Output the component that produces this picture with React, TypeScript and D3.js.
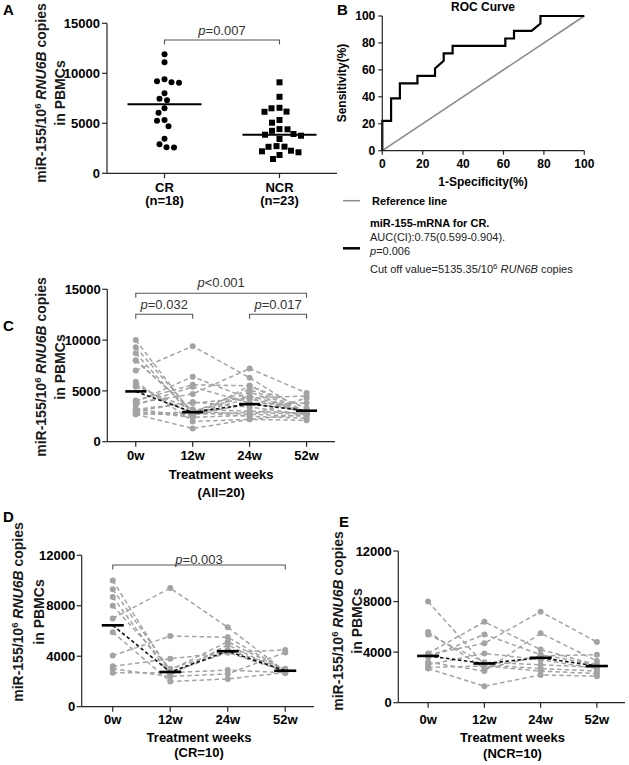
import React from "react";
import * as d3 from "d3";

const FONT = "'Liberation Sans', Arial, Helvetica, sans-serif";

// ---------- Panel A ----------
const groupsA = ["CR", "NCR"];
const groupNA = ["(n=18)", "(n=23)"];
const crValues = [11900, 11100, 9400, 9100, 9050, 9200, 8000, 7300, 7450, 6500, 6050, 5330, 5260, 4700, 3450, 2900, 2600, 2580];
const ncrValues = [9100, 7650, 6550, 6150, 6170, 6500, 5330, 5060, 4400, 4250, 4420, 3930, 3760, 3860, 3430, 2660, 2720, 2650, 2260, 2100, 1830, 2200, 1430];
const medianA = [6900, 3850];
const yTicksA = [0, 5000, 10000, 15000];

// ---------- Panel B (ROC) ----------
const rocFpr = [0, 0, 4.35, 4.35, 8.7, 8.7, 17.4, 17.4, 26.1, 26.1, 30.4, 30.4, 34.8, 34.8, 60.9, 60.9, 65.2, 65.2, 73.9, 78.3, 78.3, 100];
const rocTpr = [0, 22.2, 22.2, 38.9, 38.9, 50, 50, 55.6, 55.6, 61.1, 66.7, 72.2, 72.2, 77.8, 77.8, 83.3, 83.3, 88.9, 88.9, 94.4, 100, 100];
const rocTicks = [0, 20, 40, 60, 80, 100];

// ---------- Panels C/D/E ----------
const weeks = ["0w", "12w", "24w", "52w"];
const crPatients = [
  [10000, 2700, 4300, 2800],
  [9300, 2900, 5150, 2900],
  [8700, 2500, 4900, 2700],
  [8000, 3000, 4500, 3000],
  [7000, 9400, 6300, 2800],
  [5900, 2000, 2200, 2700],
  [4050, 5600, 5500, 2900],
  [3200, 3800, 4300, 4500],
  [3000, 2400, 2600, 4300],
  [2700, 2700, 2900, 2700],
];
const ncrPatients = [
  [8000, 3000, 2700, 2500],
  [5600, 2700, 3700, 3800],
  [5400, 3200, 3000, 2800],
  [3900, 6400, 4200, 3000],
  [3800, 4700, 7200, 4800],
  [3600, 5400, 3800, 3000],
  [3200, 2500, 5500, 3300],
  [3000, 3900, 3400, 2700],
  [2800, 2900, 2500, 2300],
  [2700, 1300, 2200, 2100],
];
const allPatients = [...crPatients, ...ncrPatients];
const medianC = [4950, 2900, 3700, 3050];
const medianD = [6450, 2750, 4400, 2850];
const medianE = [3700, 3100, 3550, 2900];
const yTicksC = [0, 5000, 10000, 15000];
const yTicksDE = [0, 4000, 8000, 12000];

const AXIS = "#262626";
const GRAY = "#a3a3a3";

function swarm(values: number[], y: (v: number) => number, cx: number, minDist: number) {
  const placed: { x: number; y: number }[] = [];
  const order = values.map((v, i) => ({ v, i })).sort((a, b) => b.v - a.v);
  const out: { x: number; y: number }[] = new Array(values.length);
  for (const { v, i } of order) {
    const yy = y(v);
    let bx = cx;
    for (let k = 0; k < 400; k++) {
      const off = k === 0 ? 0 : (k % 2 === 1 ? -1 : 1) * Math.ceil(k / 2) * 0.5;
      const x = cx + off;
      if (placed.every((p) => Math.hypot(p.x - x, p.y - yy) >= minDist)) {
        bx = x;
        break;
      }
    }
    placed.push({ x: bx, y: yy });
    out[i] = { x: bx, y: yy };
  }
  return out;
}

function YTitle({ x1, x2, cy, size = 14 }: { x1: number; x2: number; cy: number; size?: number }) {
  return (
    <g fontWeight="bold" fontSize={size} fill="#1a1a1a">
      <g transform={`translate(${x1},${cy}) rotate(-90)`}>
        <text x={0} y={0} textAnchor="middle">
          miR-155/10
          <tspan dy={-5} fontSize={size * 0.68}>6</tspan>
          <tspan dy={5} fontStyle="italic">{" RNU6B"}</tspan>
          <tspan>{" copies"}</tspan>
        </text>
      </g>
      <g transform={`translate(${x2},${cy}) rotate(-90)`}>
        <text x={0} y={0} textAnchor="middle">{"in PBMCs"}</text>
      </g>
    </g>
  );
}

function Bracket({ x1, x2, y, label, textY, op = "=" }: { x1: number; x2: number; y: number; label: string; textY: number; op?: string }) {
  return (
    <g>
      <path d={`M${x1},${y + 4.5}V${y}H${x2}V${y + 4.5}`} fill="none" stroke="#555" strokeWidth={1.1} />
      <text x={(x1 + x2) / 2} y={textY} textAnchor="middle" fontSize={13} fill="#333">
        <tspan fontStyle="italic">p</tspan>
        {op + label}
      </text>
    </g>
  );
}

function PanelA() {
  const y = d3.scaleLinear().domain([0, 15000]).range([173.3, 23.3]);
  const x = d3.scaleBand<string>().domain(groupsA).range([107, 337]);
  const cx = (g: string) => (x(g) as number) + x.bandwidth() / 2;
  const crPts = swarm(crValues, y, cx("CR"), 7.4);
  const ncrPts = swarm(ncrValues, y, cx("NCR"), 7.6);
  return (
    <g>
      <text x={3} y={15} fontSize={15} fontWeight="bold">A</text>
      <YTitle x1={46} x2={65} cy={93} />
      <line x1={107} x2={107} y1={y(0)} y2={y(15000)} stroke={AXIS} strokeWidth={1.2} />
      <line x1={107} x2={337} y1={y(0)} y2={y(0)} stroke={AXIS} strokeWidth={1.2} />
      {yTicksA.map((t) => (
        <g key={t}>
          <line x1={102} x2={107} y1={y(t)} y2={y(t)} stroke={AXIS} strokeWidth={1.2} />
          <text x={100} y={y(t)} dy="0.36em" textAnchor="end" fontSize={13} fontWeight="bold">{t}</text>
        </g>
      ))}
      {groupsA.map((g, i) => (
        <g key={g}>
          <line x1={cx(g)} x2={cx(g)} y1={y(0)} y2={y(0) + 5} stroke={AXIS} strokeWidth={1.2} />
          <text x={cx(g)} y={191.5} textAnchor="middle" fontSize={13} fontWeight="bold">{g}</text>
          <text x={cx(g)} y={205} textAnchor="middle" fontSize={13} fontWeight="bold">{groupNA[i]}</text>
        </g>
      ))}
      {crPts.map((p, i) => (
        <circle key={i} cx={p.x} cy={p.y} r={3} fill="#000" />
      ))}
      {ncrPts.map((p, i) => (
        <rect key={i} x={p.x - 3} y={p.y - 3} width={6} height={6} fill="#000" />
      ))}
      {groupsA.map((g, i) => (
        <line key={g} x1={cx(g) - 37} x2={cx(g) + 37} y1={y(medianA[i])} y2={y(medianA[i])} stroke="#000" strokeWidth={2} />
      ))}
      <Bracket x1={cx("CR")} x2={cx("NCR")} y={40} textY={35} label="0.007" />
    </g>
  );
}

function PanelB() {
  const x = d3.scaleLinear().domain([0, 100]).range([382.3, 584.3]);
  const y = d3.scaleLinear().domain([0, 100]).range([150.7, 16]);
  const line = d3
    .line<number>()
    .x((_, i) => x(rocFpr[i]))
    .y((_, i) => y(rocTpr[i]));
  return (
    <g>
      <text x={337} y={15} fontSize={15} fontWeight="bold">B</text>
      <text x={483} y={11} textAnchor="middle" fontSize={12} fontWeight="bold">ROC Curve</text>
      <line x1={x(0)} x2={x(100)} y1={y(0)} y2={y(100)} stroke="#8c8c8c" strokeWidth={1.6} />
      <path d={line(rocFpr) || ""} fill="none" stroke="#000" strokeWidth={2.2} strokeLinejoin="miter" />
      <line x1={x(0)} x2={x(0)} y1={y(0)} y2={y(100)} stroke={AXIS} strokeWidth={1.2} />
      <line x1={x(0)} x2={x(100)} y1={y(0)} y2={y(0)} stroke={AXIS} strokeWidth={1.2} />
      {rocTicks.map((t) => (
        <g key={t}>
          <line x1={x(0) - 4} x2={x(0)} y1={y(t)} y2={y(t)} stroke={AXIS} strokeWidth={1.2} />
          <text x={x(0) - 7} y={y(t)} dy="0.36em" textAnchor="end" fontSize={12} fontWeight="bold">{t}</text>
          <line x1={x(t)} x2={x(t)} y1={y(0)} y2={y(0) + 4} stroke={AXIS} strokeWidth={1.2} />
          <text x={x(t)} y={168} textAnchor="middle" fontSize={12} fontWeight="bold">{t}</text>
        </g>
      ))}
      <text x={483} y={186} textAnchor="middle" fontSize={12} fontWeight="bold">1-Specificity(%)</text>
      <g transform="translate(346,83) rotate(-90)">
        <text x={0} y={0} textAnchor="middle" fontSize={12} fontWeight="bold">Sensitivity(%)</text>
      </g>
      {/* legend */}
      <line x1={343} x2={360} y1={200.7} y2={200.7} stroke="#8c8c8c" strokeWidth={1.5} />
      <text x={372} y={205} fontSize={11} fontWeight="bold">Reference line</text>
      <line x1={343} x2={360} y1={248.3} y2={248.3} stroke="#000" strokeWidth={2.5} />
      <text x={370} y={226.5} fontSize={11} fontWeight="bold">miR-155-mRNA for CR.</text>
      <text x={370} y={240.5} fontSize={11} fill="#222">AUC(CI):0.75(0.599-0.904).</text>
      <text x={370} y={255} fontSize={11} fill="#222">
        <tspan fontStyle="italic">p</tspan>=0.006
      </text>
      <text x={370} y={273} fontSize={11} fill="#222">
        Cut off value=5135.35/10
        <tspan dy={-4.5} fontSize={8}>6</tspan>
        <tspan dy={4.5} fontStyle="italic">{" RUN6B"}</tspan>
        <tspan>{" copies"}</tspan>
      </text>
    </g>
  );
}

type TimeProps = {
  letter: string;
  letterX: number;
  letterY: number;
  patients: number[][];
  medians: number[];
  domainMax: number;
  ticks: number[];
  yRange: [number, number];
  axisX: number;
  bandRange: [number, number];
  tickLabelY: number;
  titleY: number;
  subY: number;
  sub: string;
  yt: [number, number, number];
  medW: number;
  children?: React.ReactNode;
};

function TimePanel(p: TimeProps) {
  const y = d3.scaleLinear().domain([0, p.domainMax]).range(p.yRange);
  const x = d3.scaleBand<string>().domain(weeks).range(p.bandRange);
  const cx = (w: string) => (x(w) as number) + x.bandwidth() / 2;
  const line = d3
    .line<number>()
    .x((_, i) => cx(weeks[i]))
    .y((v) => y(v));
  const mid = (p.bandRange[0] + p.bandRange[1]) / 2;
  return (
    <g>
      <text x={p.letterX} y={p.letterY} fontSize={15} fontWeight="bold">{p.letter}</text>
      <YTitle x1={p.yt[0]} x2={p.yt[1]} cy={p.yt[2]} />
      {p.patients.map((s, i) => (
        <path key={i} d={line(s) || ""} fill="none" stroke={GRAY} strokeWidth={1.5} strokeDasharray="4.5 3" />
      ))}
      {p.patients.map((s, i) =>
        s.map((v, j) => <circle key={i + "-" + j} cx={cx(weeks[j])} cy={y(v)} r={3} fill={GRAY} />)
      )}
      <path d={line(p.medians) || ""} fill="none" stroke="#111" strokeWidth={1.6} strokeDasharray="3.5 2.5" />
      {p.medians.map((m, j) => (
        <line key={j} x1={cx(weeks[j]) - p.medW / 2} x2={cx(weeks[j]) + p.medW / 2} y1={y(m)} y2={y(m)} stroke="#000" strokeWidth={2.6} />
      ))}
      <line x1={p.axisX} x2={p.axisX} y1={y(0)} y2={y(p.domainMax)} stroke={AXIS} strokeWidth={1.2} />
      <line x1={p.axisX} x2={p.bandRange[1]} y1={y(0)} y2={y(0)} stroke={AXIS} strokeWidth={1.2} />
      {p.ticks.map((t) => (
        <g key={t}>
          <line x1={p.axisX - 5} x2={p.axisX} y1={y(t)} y2={y(t)} stroke={AXIS} strokeWidth={1.2} />
          <text x={p.axisX - 6.5} y={y(t)} dy="0.36em" textAnchor="end" fontSize={13} fontWeight="bold">{t}</text>
        </g>
      ))}
      {weeks.map((w) => (
        <g key={w}>
          <line x1={cx(w)} x2={cx(w)} y1={y(0)} y2={y(0) + 5} stroke={AXIS} strokeWidth={1.2} />
          <text x={cx(w)} y={p.tickLabelY} textAnchor="middle" fontSize={13} fontWeight="bold">{w}</text>
        </g>
      ))}
      <text x={mid} y={p.titleY} textAnchor="middle" fontSize={13} fontWeight="bold">Treatment weeks</text>
      <text x={mid} y={p.subY} textAnchor="middle" fontSize={13} fontWeight="bold">{p.sub}</text>
      {p.children}
    </g>
  );
}

export default function App() {
  const xC = d3.scaleBand<string>().domain(weeks).range([107.3, 335]);
  const cC = (w: string) => (xC(w) as number) + xC.bandwidth() / 2;
  const xD = d3.scaleBand<string>().domain(weeks).range([84, 314]);
  const cD = (w: string) => (xD(w) as number) + xD.bandwidth() / 2;
  return (
    <div style={{ position: "absolute", left: 0, top: 0 }}>
      <svg width={629} height={765} style={{ display: "block" }} fontFamily={FONT}>
        <rect width={629} height={765} fill="#fff" />
        <PanelA />
        <PanelB />
        <TimePanel
          letter="C" letterX={3} letterY={331}
          patients={allPatients} medians={medianC}
          domainMax={15000} ticks={yTicksC} yRange={[441.7, 289.3]}
          axisX={107.3} bandRange={[107.3, 335]}
          tickLabelY={460} titleY={479} subY={497} sub="(All=20)"
          yt={[46, 65, 367]} medW={21}
        >
          <Bracket x1={cC("0w")} x2={cC("52w")} y={293.3} textY={287} label="0.001" op="<" />
          <Bracket x1={cC("0w")} x2={cC("12w")} y={314.3} textY={309} label="0.032" />
          <Bracket x1={cC("24w")} x2={cC("52w")} y={314.3} textY={309} label="0.017" />
        </TimePanel>
        <TimePanel
          letter="D" letterX={3} letterY={522}
          patients={crPatients} medians={medianD}
          domainMax={12000} ticks={yTicksDE} yRange={[706.7, 555.3]}
          axisX={81.7} bandRange={[84, 314]}
          tickLabelY={724} titleY={742} subY={757} sub="(CR=10)"
          yt={[23, 44, 612]} medW={22}
        >
          <Bracket x1={cD("0w")} x2={cD("52w")} y={565} textY={564} label="0.003" />
        </TimePanel>
        <TimePanel
          letter="E" letterX={339} letterY={527}
          patients={ncrPatients} medians={medianE}
          domainMax={12000} ticks={yTicksDE} yRange={[702.7, 551]}
          axisX={398.3} bandRange={[400, 625]}
          tickLabelY={724} titleY={758 - 16} subY={758} sub="(NCR=10)"
          yt={[343, 362, 621]} medW={22}
        />
      </svg>
    </div>
  );
}
